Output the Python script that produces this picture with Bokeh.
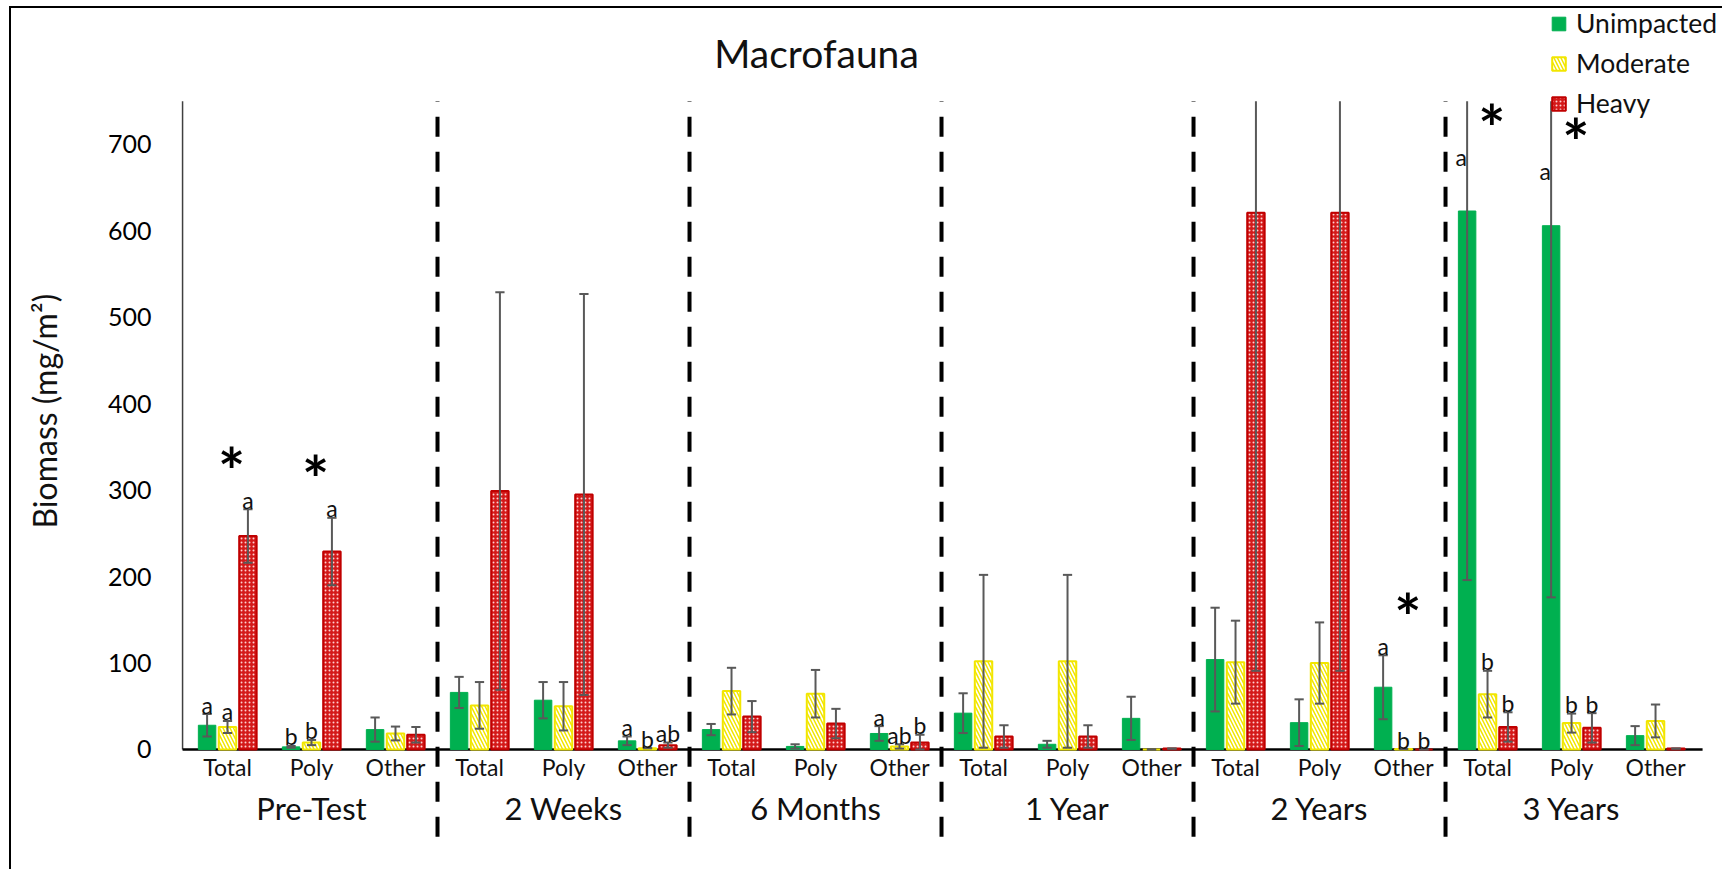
from bokeh.core.properties import value
from bokeh.embed import file_html
from bokeh.models import (ColumnDataSource, FixedTicker, Label, Legend, LegendItem,
                          Range1d, Title)
from bokeh.plotting import figure
from bokeh.resources import INLINE

# ---------------------------------------------------------------- data
periods = ["Pre-Test", "2 Weeks", "6 Months", "1 Year", "2 Years", "3 Years"]
taxa = ["Total", "Poly", "Other"]

# mean biomass (mg/m2) per period x taxon, and standard errors
unimpacted = [28, 3, 23, 66, 57, 10, 23, 3.5, 18.5, 42, 6, 36, 104, 31, 72, 623, 606, 16]
unimpacted_se = [13, 1, 14, 18, 21, 5, 6.5, 2.5, 8.5, 23, 4, 25, 60, 27, 37, 427, 430, 11]
moderate = [26, 8, 18.5, 51, 50, 1.5, 67.5, 64.5, 3.5, 102, 102, 0, 101, 100, 0.5, 64, 30.5, 33]
moderate_se = [7, 3, 8, 27, 28, 0, 27, 27.5, 2.5, 100, 100, 0, 48, 47, 0, 27, 11, 19]
heavy = [247, 229, 17, 299, 295, 5, 38, 30, 8, 15, 15, 1, 621, 621, 0, 26, 25, 1]
heavy_se = [31, 39, 9, 230, 232, 3, 18, 17, 9, 13, 13, 0, 530, 530, 0, 17, 17, 0]

# post-hoc group letters and significant differences (*)
unimpacted_letters = ["a", "b", "", "", "", "a", "", "", "a", "", "", "", "", "", "a", "a", "a", ""]
moderate_letters = ["a", "b", "", "", "", "b", "", "", "ab", "", "", "", "", "", "b", "b", "b", ""]
heavy_letters = ["a", "a", "", "", "", "ab", "", "", "b", "", "", "", "", "", "b", "b", "b", ""]
significant = [True, True, False, False, False, False, False, False, False,
               False, False, False, False, False, True, True, True, False]

y_ticks = [0, 100, 200, 300, 400, 500, 600, 700]

# ---------------------------------------------------------------- layout
FONT = "Lato"
Y_TOP = 750
n = len(periods) * len(taxa)
positions = list(range(n))

p = figure(width=1713, height=863, output_backend="svg", toolbar_location=None,
           x_range=Range1d(-0.6786, 17.821), y_range=Range1d(-141.2, 857.3),
           x_axis_location=None, min_border_left=159, min_border_right=0,
           min_border_top=0, min_border_bottom=0, outline_line_color=None,
           background_fill_color="white", border_fill_color="white")
p.grid.grid_line_color = None
# thin frame around the chart area (left and top edges)
p.styles = {"margin-left": "9px", "margin-top": "6px",
            "border-left": "2px solid black", "border-top": "2px solid black"}

ax = p.yaxis[0]
ax.ticker = FixedTicker(ticks=y_ticks)
ax.axis_line_color = None
ax.major_tick_line_color = None
ax.minor_tick_line_color = None
ax.major_label_standoff = 13
ax.major_label_text_font = FONT
ax.major_label_text_font_size = "25px"
ax.major_label_text_color = "#000000"

# y-axis title, anchored at its lower end; a blank gap keeps it clear of the tick labels
p.add_layout(Title(text=" ", standoff=0, text_font=FONT, text_font_size="32px"), "left")
p.add_layout(Title(text="Biomass (mg/m²)", align="left", offset=343, standoff=0,
                   text_font=FONT, text_font_size="32px", text_font_style="normal",
                   text_color="#111111"), "left")

# axis lines
p.segment(x0=[-0.535], y0=[0], x1=[-0.535], y1=[Y_TOP], line_color="#404040", line_width=1.5)
p.segment(x0=[-0.535], y0=[0], x1=[17.56], y1=[0], line_color="black", line_width=2.5)

# dashed separators between sampling periods
sep = [3 * k - 0.5 for k in range(1, len(periods))]
p.segment(x0=sep, y0=[-101] * len(sep), x1=sep, y1=[Y_TOP] * len(sep),
          line_color="black", line_width=4, line_dash="20 15")

# ---------------------------------------------------------------- bars
offsets = [-0.243, 0.0, 0.243]
styles = [
    dict(fill_color="#00b050", line_color="#00b050", line_width=1),
    dict(fill_color="white", line_color="#f2e600", line_width=2,
         hatch_pattern="\\", hatch_color="#f2e600", hatch_scale=7, hatch_weight=1.5),
    dict(fill_color="#d41a1a", line_color="#c00000", line_width=2,
         hatch_pattern="dot", hatch_color="#ffd0d0", hatch_scale=4, hatch_weight=1),
]
series = [
    ("Unimpacted", unimpacted, unimpacted_se, unimpacted_letters),
    ("Moderate", moderate, moderate_se, moderate_letters),
    ("Heavy", heavy, heavy_se, heavy_letters),
]

legend_items = []
cap = 0.055
for (name, means, errs, letters), off, st in zip(series, offsets, styles):
    xs = [i + off for i in positions]
    src = ColumnDataSource(dict(x=xs, top=means))
    r = p.vbar(x="x", top="top", bottom=0, width=0.208, source=src, **st)
    legend_items.append(LegendItem(label=name, renderers=[r]))

    hi = [m + e for m, e in zip(means, errs)]
    lo = [max(m - e, 0) for m, e in zip(means, errs)]
    p.segment(x0=xs, y0=lo, x1=xs, y1=[min(h, Y_TOP) for h in hi],
              line_color="#595959", line_width=2)
    cx = [x for x, h in zip(xs, hi) if h <= Y_TOP]
    cy = [h for h in hi if h <= Y_TOP]
    p.segment(x0=[x - cap for x in cx], y0=cy, x1=[x + cap for x in cx], y1=cy,
              line_color="#595959", line_width=2)
    p.segment(x0=[x - cap for x in xs], y0=lo, x1=[x + cap for x in xs], y1=lo,
              line_color="#595959", line_width=2)

    # letters: above the whisker, or beside it when the whisker runs off the top
    lx, ly, lt, sx, sy, st_ = [], [], [], [], [], []
    for x, m, h, t in zip(xs, means, hi, letters):
        if not t:
            continue
        if h <= Y_TOP:
            lx.append(x); ly.append(h + 11); lt.append(t)
        else:
            sx.append(x - 0.07); sy.append(m + 63); st_.append(t)
    p.text(x=lx, y=ly, text=lt, text_font=value(FONT), text_font_size="23px",
           text_align="center", text_baseline="alphabetic", text_color="#111111")
    p.text(x=sx, y=sy, text=st_, text_font=value(FONT), text_font_size="23px",
           text_align="center", text_baseline="middle", text_color="#111111")

# asterisks for significant impact effects
ax_x, ax_y = [], []
for i, sig in enumerate(significant):
    if not sig:
        continue
    tops = [s[1][i] + s[2][i] for s in series]
    if max(tops) > Y_TOP:
        ax_y.append(max(s[1][i] for s in series) + 97)
    else:
        ax_y.append(max(tops) + 45)
    ax_x.append(i + 0.05)
p.text(x=ax_x, y=ax_y, text=["*"] * len(ax_x), text_font=value(FONT),
       text_font_size="64px", text_font_style="bold", text_align="center",
       text_baseline="middle", text_color="black")

# category and period labels
p.text(x=positions, y=[-20] * n, text=taxa * len(periods), text_font=value(FONT),
       text_font_size="23px", text_align="center", text_baseline="middle",
       text_color="#111111")
p.text(x=[3 * k + 1 for k in range(len(periods))], y=[-68] * len(periods), text=periods,
       text_font=value(FONT), text_font_size="31px", text_align="center",
       text_baseline="middle", text_color="#111111")

# chart title
p.add_layout(Label(x=803, y=42, x_units="canvas", y_units="canvas", text="Macrofauna",
                   text_font=FONT, text_font_size="39px", text_align="center",
                   text_baseline="middle", text_color="#111111"))

legend = Legend(items=legend_items, location=(1380, 752), margin=0, padding=0,
                spacing=8, glyph_width=17, glyph_height=17, label_standoff=9,
                label_text_font=FONT, label_text_font_size="26.5px",
                label_text_color="#111111", border_line_color=None,
                background_fill_alpha=0)
p.add_layout(legend)

open("out.html", "w").write(file_html(p, INLINE))
